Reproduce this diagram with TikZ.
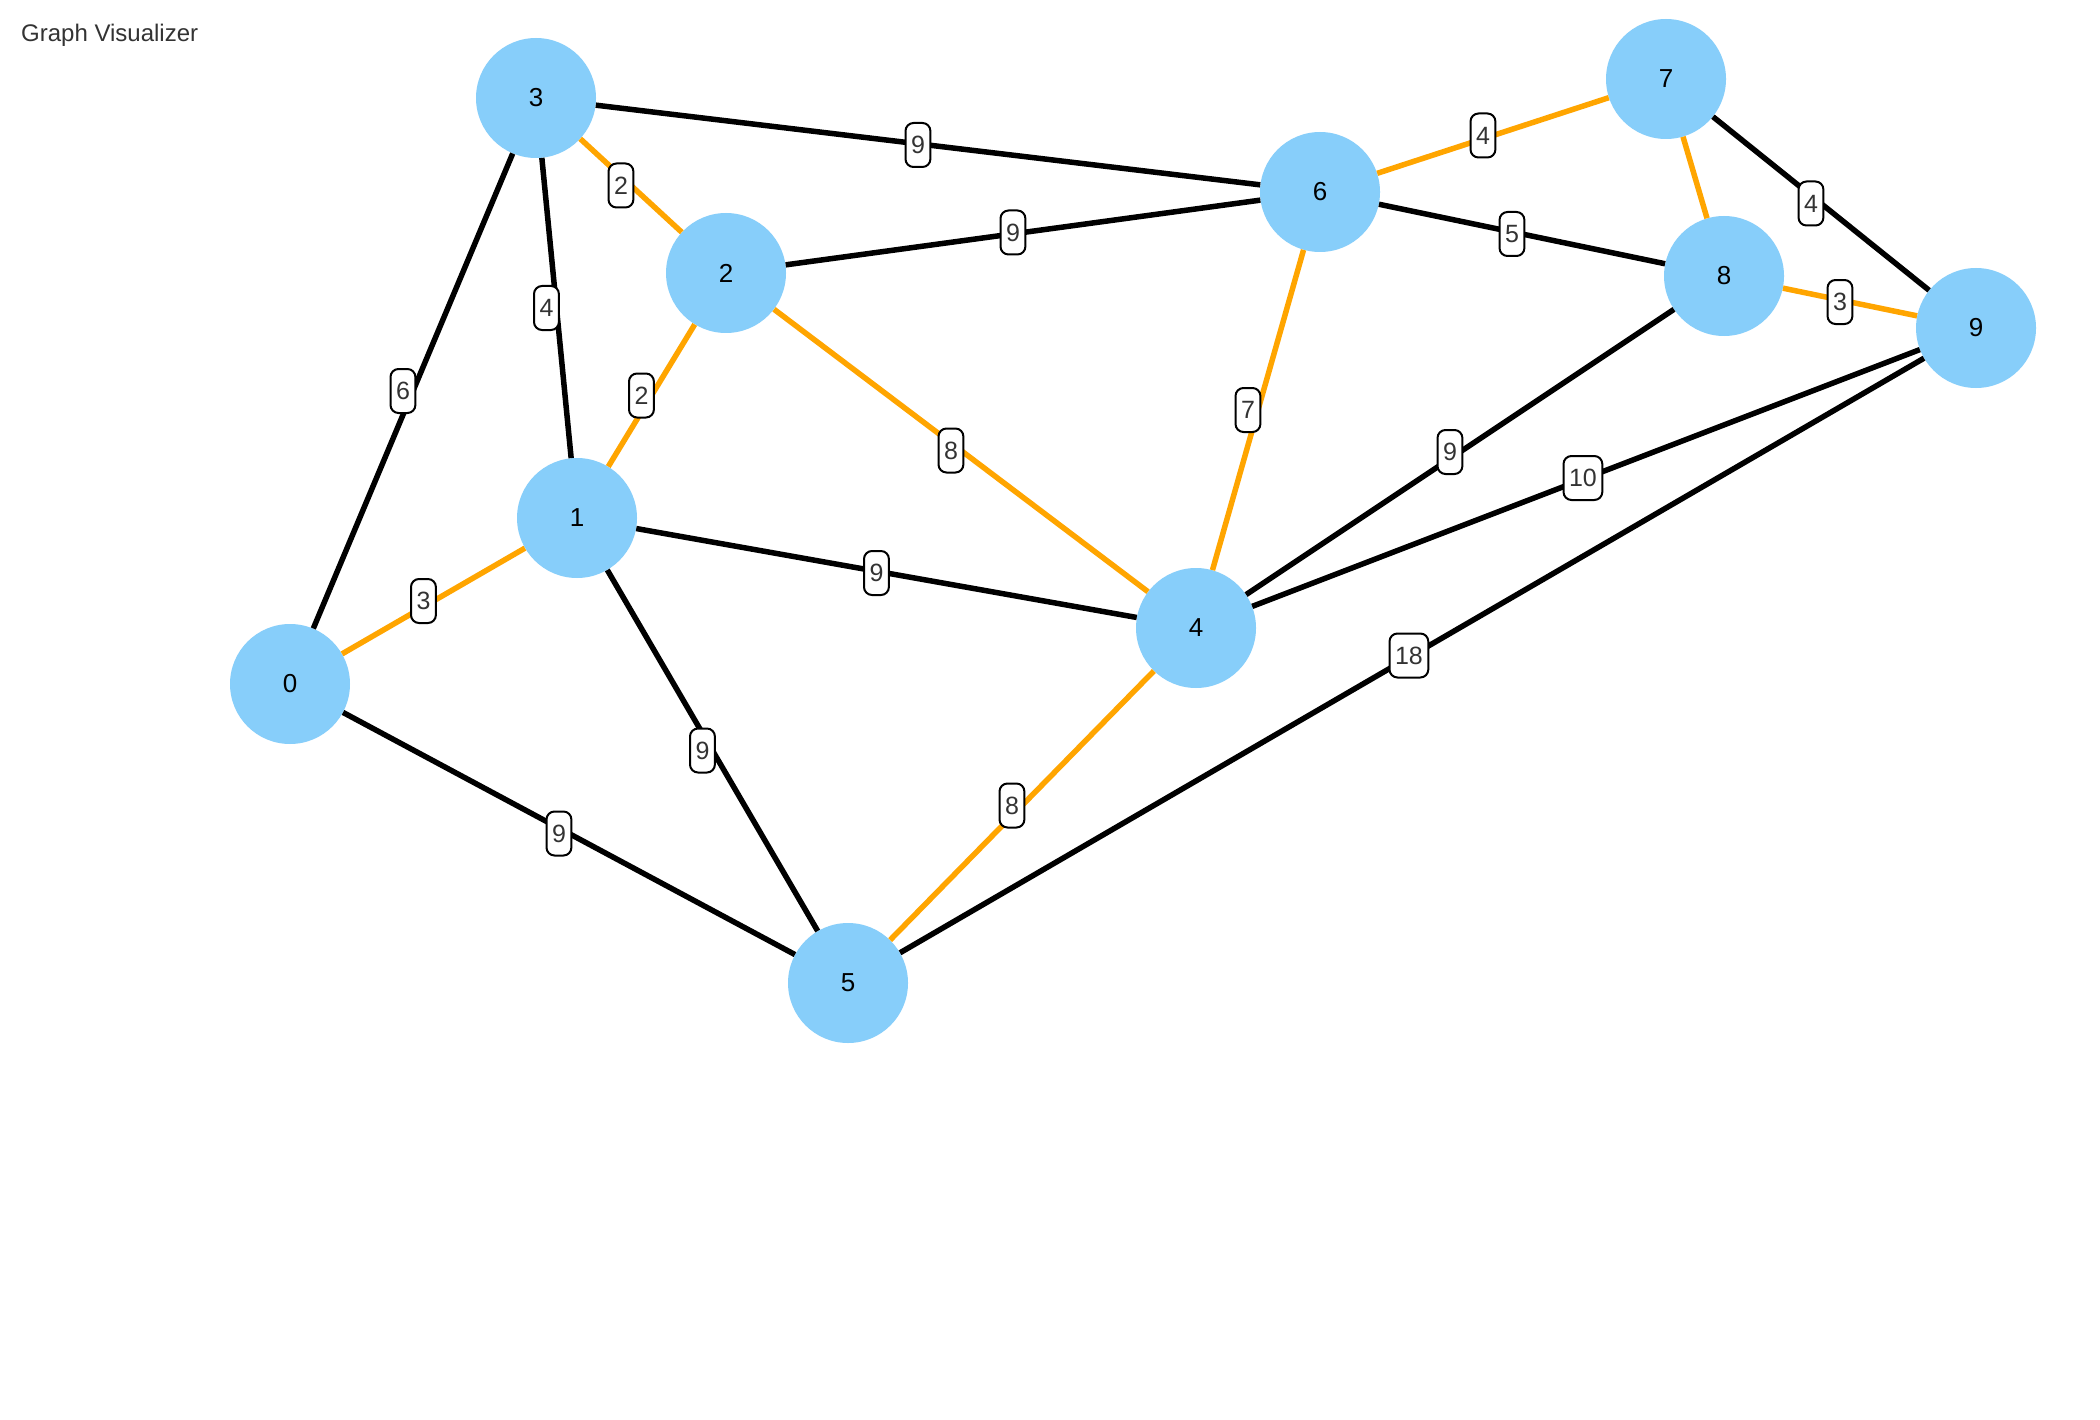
\documentclass[tikz,border=0pt]{standalone}
\usepackage{fontspec}
\setmainfont{Liberation Sans}
\definecolor{nodeblue}{HTML}{87CEFA}
\definecolor{edgeorange}{HTML}{FFA500}
\definecolor{labelgray}{HTML}{333333}
\begin{document}
\begin{tikzpicture}[x=1pt,y=-1pt,
  vertex/.style={circle,fill=nodeblue,minimum size=120pt,inner sep=0pt,font=\fontsize{26}{30}\selectfont,text=black},
  edge/.style={line width=5.5pt,black},
  hot/.style={line width=5.5pt,edgeorange},
  wlabel/.style={draw=black,line width=2pt,fill=white,rounded corners=8pt,text=labelgray,
    font=\fontsize{25}{30}\selectfont,inner xsep=5.5pt,inner ysep=0pt,minimum height=44pt,
    anchor=west,xshift=-23.5pt},
  title/.style={anchor=west,text=labelgray,font=\fontsize{24}{28}\selectfont,inner sep=0pt}]
\useasboundingbox[fill=white] (0,0) rectangle (2100,1420);
\node[title] (t) at (21,35) {Graph Visualizer};
\node[vertex] (n0) at (290,684) {0};
\node[vertex] (n1) at (577,518) {1};
\node[vertex] (n2) at (726,273) {2};
\node[vertex] (n3) at (536,98) {3};
\node[vertex] (n4) at (1196,628) {4};
\node[vertex] (n5) at (848,983) {5};
\node[vertex] (n6) at (1320,192) {6};
\node[vertex] (n7) at (1666,79) {7};
\node[vertex] (n8) at (1724,276) {8};
\node[vertex] (n9) at (1976,328) {9};
\draw[edge] (n3) -- node[wlabel]{9} (n6);
\draw[hot] (n3) -- node[wlabel]{2} (n2);
\draw[edge] (n3) -- node[wlabel]{4} (n1);
\draw[edge] (n3) -- node[wlabel]{6} (n0);
\draw[edge] (n2) -- node[wlabel]{9} (n6);
\draw[hot] (n2) -- node[wlabel]{2} (n1);
\draw[hot] (n2) -- node[wlabel]{8} (n4);
\draw[hot] (n1) -- node[wlabel]{3} (n0);
\draw[edge] (n1) -- node[wlabel]{9} (n4);
\draw[edge] (n1) -- node[wlabel]{9} (n5);
\draw[edge] (n0) -- node[wlabel]{9} (n5);
\draw[hot] (n6) -- node[wlabel]{4} (n7);
\draw[edge] (n6) -- node[wlabel]{5} (n8);
\draw[hot] (n6) -- node[wlabel]{7} (n4);
\draw[hot] (n7) -- (n8);
\draw[edge] (n7) -- node[wlabel]{4} (n9);
\draw[hot] (n8) -- node[wlabel]{3} (n9);
\draw[edge] (n8) -- node[wlabel]{9} (n4);
\draw[edge] (n9) -- node[wlabel]{10} (n4);
\draw[edge] (n9) -- node[wlabel]{18} (n5);
\draw[hot] (n4) -- node[wlabel]{8} (n5);
\end{tikzpicture}
\end{document}
